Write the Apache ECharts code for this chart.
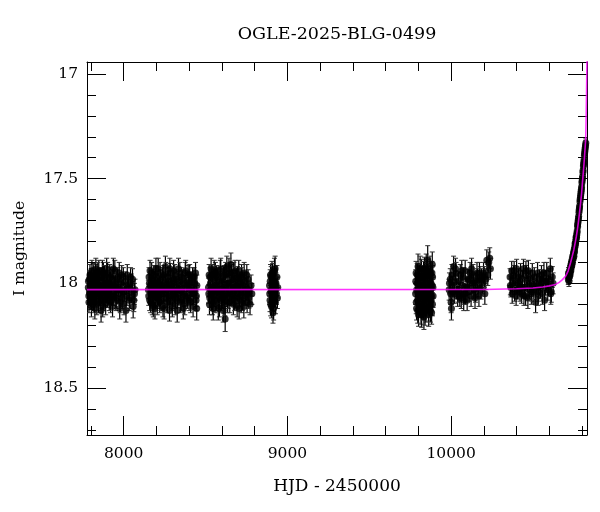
<!DOCTYPE html>
<html>
<head>
<meta charset="utf-8">
<script src="https://cdn.jsdelivr.net/npm/echarts@6/dist/echarts.min.js"></script>
<style>html,body{margin:0;padding:0;background:#fff}#c{width:600px;height:512px}</style>
</head>
<body>
<div id="c"></div>
<script>
// Photometry: [HJD-2450000, I mag, error]
const season2017 = [[7784,18.02,.04],[7787,18.06,.045],[7790,17.98,.04],[7793,18.05,.05],[7796,18.01,.04],[7799,18.08,.045],[7802,17.97,.04],[7805,18.04,.05],[7808,18.00,.04],[7811,18.07,.045],[7814,17.95,.045],[7817,18.03,.04],[7820,18.09,.05],[7823,17.99,.04],[7826,18.05,.045],[7829,17.96,.05],[7832,18.02,.04],[7836,18.10,.05],[7840,17.98,.045],[7844,18.04,.04],[7848,17.94,.05],[7852,18.06,.045],[7856,18.01,.04],[7860,18.08,.05],[7864,17.97,.045],[7868,18.03,.04],[7872,18.11,.05],[7876,17.95,.05],[7880,18.02,.04],[7884,18.06,.045],[7888,17.99,.04],[7892,18.04,.05],[7896,17.93,.05],[7900,18.07,.045],[7905,18.00,.04],[7910,18.05,.045],[7915,17.96,.05],[7920,18.09,.05],[7925,18.02,.04],[7930,17.98,.045],[7935,18.06,.045],[7940,18.01,.04],[7946,17.94,.05],[7952,18.08,.05],[7958,18.03,.04],[7964,17.97,.045],[7970,18.05,.045],[7976,18.12,.05],[7982,18.00,.04],[7988,17.96,.045],[7995,18.04,.045],[8002,18.10,.05],[8010,17.99,.045],[8018,18.06,.045],[8026,18.02,.04],[8034,18.08,.05],[8042,17.97,.045],[8050,18.04,.05],[8058,18.11,.055],[8066,18.05,.05],
  [7785,17.99,.045],[7788,18.09,.05],[7791,18.04,.045],[7794,17.96,.05],[7797,18.07,.045],[7800,18.02,.04],[7803,18.11,.05],[7806,17.94,.05],[7809,18.05,.045],[7812,18.01,.04],[7815,18.08,.05],[7818,17.97,.045],[7821,18.03,.04],[7824,18.12,.05],[7827,18.00,.04],[7830,17.93,.05],[7834,18.06,.045],[7838,18.02,.04],[7842,17.95,.05],[7846,18.09,.05],[7850,18.01,.04],[7854,17.97,.045],[7858,18.05,.045],[7862,18.13,.055],[7866,17.99,.04],[7870,17.94,.05],[7874,18.04,.045],[7878,18.08,.05],[7882,17.96,.045],[7886,18.02,.04],[7890,18.10,.05],[7894,18.00,.04],[7898,18.05,.045],[7902,17.95,.05],[7907,18.03,.04],[7912,18.08,.05],[7917,18.01,.045],[7922,17.97,.045],[7927,18.06,.045],[7932,18.11,.05],[7937,17.93,.05],[7943,18.04,.045],[7949,18.00,.04],[7955,18.07,.05],[7961,17.98,.045],[7967,18.02,.04],[7973,17.95,.05],[7979,18.09,.05],[7985,18.03,.045],[7991,18.07,.05],[7998,17.97,.045],[8006,18.04,.045],[8014,18.13,.055],[8022,17.96,.05],[8030,18.01,.045],[8038,18.07,.05],[8046,18.00,.045],[8054,17.98,.05],[8062,18.08,.055],[8069,18.03,.05]];
const season2018 = [[8151,18.03,.045],[8155,17.97,.045],[8159,18.08,.05],[8163,18.01,.04],[8167,18.05,.045],[8171,17.95,.05],[8175,18.10,.05],[8179,18.02,.04],[8183,17.99,.045],[8187,18.06,.045],[8191,18.12,.05],[8195,17.96,.045],[8199,18.04,.04],[8203,18.00,.045],[8207,18.07,.05],[8211,17.93,.05],[8215,18.03,.04],[8220,18.09,.05],[8225,17.98,.045],[8230,18.05,.045],[8235,18.01,.04],[8240,18.11,.05],[8245,17.96,.045],[8250,18.04,.045],[8255,17.92,.05],[8260,18.07,.045],[8265,18.02,.04],[8270,17.99,.045],[8275,18.06,.05],[8280,18.13,.05],[8285,17.95,.045],[8290,18.03,.04],[8295,18.08,.05],[8300,18.00,.04],[8305,17.94,.05],[8310,18.05,.045],[8315,18.10,.05],[8320,17.98,.045],[8325,18.03,.04],[8330,18.07,.045],[8335,17.93,.05],[8340,18.01,.04],[8346,18.09,.05],[8352,17.97,.045],[8358,18.04,.045],[8364,18.12,.05],[8370,18.00,.04],[8376,17.95,.05],[8382,18.06,.045],[8388,18.02,.04],[8394,17.96,.045],[8400,18.08,.05],[8406,18.03,.045],[8412,17.99,.045],[8418,18.05,.05],[8424,18.11,.05],[8430,17.97,.045],[8436,18.04,.05],[8442,18.08,.05],[8447,18.01,.05],
  [8153,18.06,.045],[8157,18.00,.04],[8161,17.94,.05],[8165,18.09,.05],[8169,18.03,.04],[8173,17.98,.045],[8177,18.05,.045],[8181,18.11,.05],[8185,17.96,.045],[8189,18.02,.04],[8193,18.07,.05],[8197,17.93,.05],[8201,18.04,.045],[8205,18.10,.05],[8209,17.99,.04],[8213,18.06,.045],[8217,18.01,.04],[8222,17.95,.05],[8227,18.08,.05],[8232,18.03,.04],[8237,17.97,.045],[8242,18.05,.045],[8247,18.12,.05],[8252,18.00,.04],[8257,17.95,.05],[8262,18.03,.045],[8267,18.09,.05],[8272,17.97,.045],[8277,18.02,.04],[8282,17.93,.05],[8287,18.06,.045],[8292,18.01,.04],[8297,18.11,.05],[8302,17.98,.045],[8307,18.04,.045],[8312,17.96,.05],[8317,18.07,.05],[8322,18.02,.04],[8327,18.13,.055],[8332,17.99,.045],[8337,18.05,.045],[8343,17.95,.05],[8349,18.03,.04],[8355,18.08,.05],[8361,17.98,.045],[8367,18.05,.045],[8373,18.10,.05],[8379,17.94,.05],[8385,18.01,.04],[8391,18.07,.05],[8397,18.00,.045],[8403,17.96,.05],[8409,18.09,.05],[8415,18.02,.045],[8421,17.97,.045],[8427,18.05,.05],[8433,18.00,.045],[8439,17.95,.05],[8444,18.06,.05],[8446,18.12,.055]];
const season2019 = [[8518,18.02,.045],[8522,17.96,.05],[8526,18.07,.045],[8530,18.00,.04],[8534,17.93,.05],[8538,18.05,.045],[8542,18.10,.05],[8547,18.12,.055],[8551,17.98,.045],[8555,18.03,.04],[8560,17.95,.05],[8565,18.08,.05],[8570,18.01,.04],[8575,17.97,.045],[8580,18.06,.045],[8585,18.11,.05],[8590,17.94,.05],[8595,18.04,.045],[8600,17.99,.04],[8605,18.07,.05],[8608,18.13,.055],[8612,18.02,.045],[8616,17.96,.045],[8620,18.17,.06],[8625,18.05,.045],[8630,17.92,.05],[8635,18.09,.05],[8640,18.00,.04],[8645,17.95,.05],[8650,18.04,.045],[8655,17.91,.055],[8660,18.06,.045],[8665,17.98,.045],[8670,18.10,.05],[8675,18.02,.04],[8680,17.94,.05],[8685,18.07,.045],[8690,18.01,.045],[8695,17.97,.05],[8700,18.05,.045],[8705,18.12,.05],[8710,17.99,.045],[8715,18.03,.045],[8720,17.96,.05],[8725,18.08,.05],[8730,18.01,.045],[8736,17.95,.05],[8742,18.06,.045],[8748,18.02,.045],[8754,18.09,.05],[8760,17.98,.045],[8766,18.04,.05],[8772,18.10,.05],[8778,18.01,.05],[8783,18.05,.05],
  [8520,18.05,.045],[8524,18.10,.05],[8528,17.97,.045],[8532,18.03,.04],[8536,18.08,.05],[8540,17.96,.05],[8544,18.02,.045],[8549,18.06,.05],[8553,17.94,.05],[8558,18.09,.05],[8563,18.01,.045],[8568,17.96,.045],[8573,18.04,.045],[8578,18.12,.055],[8583,17.99,.045],[8588,18.05,.045],[8593,17.93,.05],[8598,18.08,.05],[8603,18.02,.045],[8610,17.97,.05],[8614,18.06,.05],[8618,18.10,.055],[8623,17.95,.05],[8628,18.03,.045],[8633,18.00,.045],[8638,18.07,.05],[8643,17.93,.05],[8648,18.09,.05],[8653,18.02,.045],[8658,17.96,.05],[8663,18.05,.045],[8668,18.01,.045],[8673,17.95,.05],[8678,18.08,.05],[8683,18.03,.045],[8688,17.98,.045],[8693,18.11,.05],[8698,18.02,.045],[8703,17.94,.05],[8708,18.06,.05],[8713,18.00,.045],[8718,18.09,.05],[8723,17.97,.045],[8728,18.04,.045],[8734,18.11,.055],[8740,17.99,.045],[8746,18.05,.05],[8752,17.96,.05],[8758,18.03,.045],[8764,18.07,.05]];
const season2020 = [[8891,18.01,.05],[8894,18.08,.055],[8897,17.96,.05],[8900,18.04,.05],[8903,18.11,.055],[8906,17.95,.055],[8909,18.02,.05],[8912,18.14,.05],[8915,17.99,.05],[8918,18.06,.05],[8921,17.94,.06],[8924,18.03,.05],[8927,18.09,.055],[8930,18.00,.05],[8933,18.05,.05],[8936,17.97,.055],[8939,18.07,.05],[8941,18.02,.05],
  [8892,18.05,.05],[8895,17.99,.055],[8898,18.10,.055],[8901,17.97,.05],[8904,18.03,.05],[8907,18.08,.055],[8910,17.96,.055],[8913,18.04,.05],[8916,18.12,.055],[8919,18.00,.05],[8922,18.06,.055],[8925,17.93,.06],[8928,18.02,.05]];
const season2022 = [[9783,18.05,.05],[9786,17.95,.055],[9789,18.12,.055],[9792,18.00,.05],[9795,18.08,.05],[9798,17.92,.06],[9801,18.15,.055],[9804,18.03,.05],[9807,17.97,.055],[9810,18.10,.05],[9813,18.01,.05],[9816,18.14,.055],[9819,17.94,.055],[9822,18.06,.05],[9825,18.11,.055],[9828,17.99,.05],[9831,18.04,.05],[9834,18.16,.06],[9837,17.93,.055],[9840,18.07,.05],[9843,18.02,.05],[9846,18.13,.055],[9848,17.92,.06],[9849,17.96,.055],[9852,18.09,.05],[9855,18.00,.05],[9857,17.89,.07],[9860,18.05,.05],[9862,18.12,.06],[9863,18.15,.055],[9866,17.98,.05],[9869,18.11,.05],[9872,18.03,.05],[9875,17.95,.055],[9878,18.08,.05],[9881,18.14,.055],[9884,18.01,.05],[9885,17.91,.06],[9887,17.97,.055],[9890,18.06,.055],
  [9784,17.99,.055],[9787,18.09,.055],[9790,18.03,.05],[9793,17.96,.055],[9796,18.13,.06],[9799,18.05,.05],[9802,17.98,.055],[9805,18.10,.055],[9808,18.01,.05],[9811,17.93,.06],[9814,18.07,.05],[9817,18.03,.05],[9820,18.15,.06],[9823,17.97,.055],[9826,18.04,.05],[9829,18.12,.055],[9832,17.95,.055],[9835,18.08,.05],[9838,18.00,.05],[9841,18.14,.06],[9844,17.97,.055],[9847,18.05,.05],[9850,18.10,.055],[9853,17.94,.055],[9856,18.03,.05],[9859,17.96,.055],[9864,18.07,.05],[9868,18.02,.05],[9871,17.93,.06],[9874,18.13,.055],[9877,18.00,.05],[9880,18.06,.05],[9883,17.95,.055],[9886,18.10,.055],[9889,18.02,.05]];
const season2023 = [[9988,18.03,.05],[9995,17.98,.05],[10000,18.09,.05],[10002,18.12,.055],[10008,18.01,.045],[10015,17.92,.05],[10020,18.05,.045],[10027,17.93,.05],[10033,18.03,.045],[10040,18.06,.05],[10045,17.99,.045],[10050,18.04,.045],[10056,17.96,.05],[10062,18.07,.05],[10068,18.01,.045],[10074,17.97,.045],[10080,18.05,.05],[10086,17.94,.05],[10092,18.02,.045],[10098,18.08,.05],[10104,17.98,.045],[10110,18.04,.045],[10116,17.95,.05],[10122,18.06,.05],[10128,18.00,.045],[10134,17.96,.05],[10140,18.03,.045],[10146,18.07,.05],[10152,17.99,.045],[10158,17.95,.05],[10164,18.02,.045],[10170,18.06,.05],[10176,17.97,.05],[10182,18.03,.045],[10190,18.00,.05],[10198,17.95,.05],[10206,18.05,.05],[10212,17.98,.05],[10218,17.89,.05],[10224,17.96,.05],[10230,17.90,.05],[10236,17.88,.05],[10240,17.93,.05],
  [9990,18.00,.05],[9998,18.05,.05],[10005,17.96,.05],[10011,18.04,.045],[10018,17.99,.05],[10030,17.95,.05],[10042,18.04,.05],[10053,18.06,.05],[10065,17.94,.05],[10077,18.08,.05],[10089,18.05,.05],[10101,18.02,.045],[10113,17.98,.045],[10125,17.93,.05],[10137,18.00,.045],[10149,18.04,.05],[10161,17.98,.05],[10173,17.95,.05],[10186,17.98,.05],[10202,17.97,.05]];
const season2024 = [[10360,17.97,.04],[10365,18.02,.045],[10370,17.94,.045],[10376,18.00,.04],[10382,17.96,.045],[10388,18.04,.045],[10394,17.99,.04],[10400,17.93,.045],[10406,18.03,.045],[10412,17.97,.04],[10418,18.01,.045],[10424,17.95,.045],[10430,18.05,.045],[10436,17.98,.04],[10442,17.93,.045],[10448,18.02,.045],[10455,18.06,.045],[10460,17.96,.045],[10466,18.00,.04],[10472,17.94,.05],[10478,18.03,.045],[10484,17.98,.04],[10490,18.05,.05],[10496,17.95,.045],[10502,18.01,.045],[10508,17.97,.045],[10516,18.09,.05],[10522,18.00,.045],[10528,17.95,.05],[10534,18.04,.045],[10540,17.98,.045],[10546,18.02,.05],[10552,17.96,.045],[10558,18.05,.05],[10564,17.99,.045],[10571,18.08,.05],[10578,18.01,.045],[10584,17.95,.05],[10590,18.03,.05],[10598,17.98,.05],[10606,17.93,.05],[10612,18.04,.05],[10618,17.97,.05],[10623,18.00,.05],
  [10362,18.01,.045],[10373,18.05,.045],[10385,17.94,.045],[10397,18.06,.045],[10409,18.00,.04],[10421,18.04,.045],[10433,18.02,.045],[10445,18.06,.045],[10457,17.94,.045],[10469,18.07,.05],[10481,18.01,.045],[10493,18.04,.045],[10505,18.03,.045],[10519,18.02,.045],[10531,18.06,.045],[10543,18.01,.045],[10555,17.98,.045],[10567,17.95,.05],[10581,17.99,.05],[10594,18.01,.05],[10609,18.05,.05]];
const season2025 = [[10716,17.98,.025],[10718,17.96,.025],[10720,17.99,.025],[10723,17.95,.025],[10726,17.96,.025],[10728,17.93,.025],[10731,17.94,.025],[10733,17.91,.025],[10736,17.92,.025],[10739,17.89,.025],[10741,17.90,.025],[10744,17.88,.02],[10747,17.86,.02],[10750,17.87,.02],[10752,17.84,.02],[10755,17.83,.02],[10758,17.82,.02],[10761,17.80,.02],[10764,17.79,.02],[10767,17.77,.02],[10770,17.75,.02],[10773,17.73,.02],[10776,17.70,.02],[10779,17.68,.02],[10782,17.65,.02],[10785,17.63,.02],[10788,17.60,.02],[10791,17.58,.02],[10794,17.56,.02],[10797,17.54,.02],[10800,17.51,.02],[10803,17.49,.02],[10806,17.46,.02],[10809,17.43,.02],[10812,17.41,.02],[10815,17.38,.02],[10818,17.36,.02],[10821,17.34,.02],[10823,17.33,.02],
  [10717,17.95,.025],[10719,17.97,.025],[10722,17.97,.025],[10725,17.94,.025],[10727,17.95,.025],[10730,17.92,.025],[10735,17.90,.025],[10738,17.91,.025],[10743,17.87,.02],[10746,17.88,.02],[10749,17.85,.02],[10754,17.85,.02],[10757,17.81,.02],[10760,17.81,.02],[10763,17.78,.02],[10766,17.78,.02],[10769,17.76,.02],[10772,17.72,.02],[10775,17.71,.02],[10778,17.69,.02],[10781,17.66,.02],[10784,17.64,.02],[10787,17.61,.02],[10790,17.59,.02],[10793,17.57,.02],[10796,17.55,.02],[10799,17.52,.02],[10802,17.50,.02],[10805,17.47,.02],[10808,17.44,.02],[10811,17.42,.02],[10814,17.39,.02],[10817,17.37,.02],[10820,17.35,.02]];

// Model light curve
const modelHJD = [7776,10200,10400,10500,10560,10600,10638,10660,10680,10700,10715,10730,10740,10750,10758,10765,10771,10777,10784,10791,10797,10802,10807,10812,10817,10822,10825,10827,10829,10830];
const modelMag = [18.03,18.029,18.026,18.022,18.017,18.012,18.005,17.995,17.982,17.965,17.94,17.90,17.87,17.838,17.805,17.775,17.745,17.71,17.665,17.616,17.57,17.52,17.475,17.425,17.37,17.31,17.2,17.1,16.98,16.93];

const titleText = 'OGLE-2025-BLG-0499';
const xName = 'HJD - 2450000';
const yName = 'I magnitude';

const allPoints = [].concat(season2017, season2018, season2019, season2020, season2022, season2023, season2024, season2025);
const modelData = modelHJD.map((t, i) => [t, modelMag[i]]);

const FONT = "'DejaVu Serif', serif";
const xRange = [7776, 10830];
const yRange = [16.943, 18.724];

function axisBase(showLabel, margin) {
  return {
    type: 'value',
    splitLine: { show: false },
    axisLine: { show: true, onZero: false, lineStyle: { color: '#000', width: 1 } },
    axisTick: { show: true, inside: true, length: 19, lineStyle: { color: '#000', width: 1 } },
    minorTick: { show: true, splitNumber: 5, length: 9, lineStyle: { color: '#000', width: 1 } },
    axisLabel: {
      show: showLabel, fontFamily: FONT, fontSize: 15.5, color: '#000', margin: margin,
      showMinLabel: false, showMaxLabel: false,
      formatter: function (v) { return String(v); }
    }
  };
}

const chart = echarts.init(document.getElementById('c'), null, { renderer: 'canvas' });
chart.setOption({
  animation: false,
  backgroundColor: '#fff',
  title: {
    text: titleText,
    left: 332, top: 20, textAlign: 'center',
    textStyle: { fontFamily: FONT, fontSize: 17.5, fontWeight: 'normal', color: '#000' }
  },
  grid: { left: 87, right: 13, top: 62, bottom: 77 },
  xAxis: [
    Object.assign(axisBase(true, 11), {
      position: 'bottom', min: xRange[0], max: xRange[1], splitNumber: 3,
      name: xName, nameLocation: 'middle', nameGap: 43,
      nameTextStyle: { fontFamily: FONT, fontSize: 17, color: '#000' }
    }),
    Object.assign(axisBase(false, 8), { position: 'top', min: xRange[0], max: xRange[1], splitNumber: 3 })
  ],
  yAxis: [
    Object.assign(axisBase(true, 9), {
      position: 'left', inverse: true, min: yRange[0], max: yRange[1], splitNumber: 4,
      name: yName, nameLocation: 'middle', nameGap: 59,
      nameTextStyle: { fontFamily: FONT, fontSize: 15.5, color: '#000' }
    }),
    Object.assign(axisBase(false, 8), { position: 'right', inverse: true, min: yRange[0], max: yRange[1], splitNumber: 4 })
  ],
  series: [
    {
      type: 'custom',
      name: 'errors',
      xAxisIndex: 0, yAxisIndex: 0,
      data: allPoints,
      z: 2,
      clip: true,
      renderItem: function (params, api) {
        const t = api.value(0), m = api.value(1), e = api.value(2);
        const p1 = api.coord([t, m - e]);
        const p2 = api.coord([t, m + e]);
        const w = 2.5;
        const bar = { stroke: '#000', lineWidth: 1.2 };
        const cap = { stroke: '#333', lineWidth: 1 };
        return {
          type: 'group',
          children: [
            { type: 'line', shape: { x1: p1[0], y1: p1[1], x2: p2[0], y2: p2[1] }, style: bar },
            { type: 'line', shape: { x1: p1[0] - w, y1: p1[1], x2: p1[0] + w, y2: p1[1] }, style: cap },
            { type: 'line', shape: { x1: p2[0] - w, y1: p2[1], x2: p2[0] + w, y2: p2[1] }, style: cap }
          ]
        };
      },
      encode: { x: 0, y: 1 }
    },
    {
      type: 'scatter',
      name: 'OGLE',
      xAxisIndex: 0, yAxisIndex: 0,
      data: allPoints,
      encode: { x: 0, y: 1 },
      symbol: 'circle',
      symbolSize: 7,
      itemStyle: { color: '#000' },
      z: 3
    },
    {
      type: 'line',
      name: 'model',
      xAxisIndex: 0, yAxisIndex: 0,
      data: modelData,
      showSymbol: false,
      symbol: 'none',
      clip: true,
      lineStyle: { color: '#ff00ff', width: 1.6, opacity: 0.8 },
      z: 4
    }
  ]
});
</script>
</body>
</html>
